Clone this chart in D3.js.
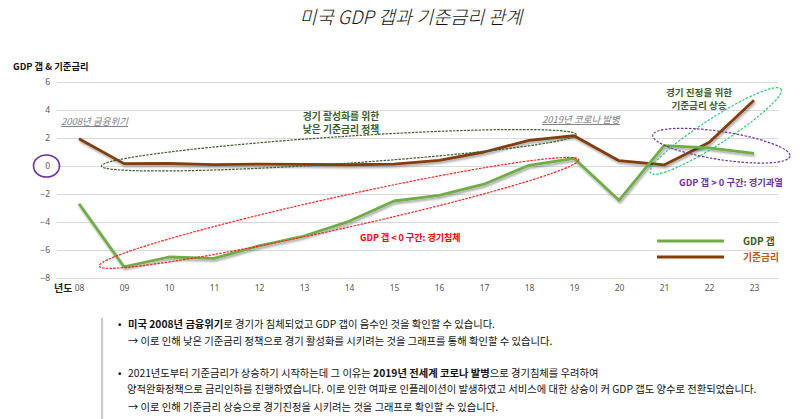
<!DOCTYPE html>
<html><head><meta charset="utf-8">
<script src="https://cdn.jsdelivr.net/npm/d3@7"></script>
<style>
html,body{margin:0;padding:0;background:#fff;}
svg{display:block;font-family:"Noto Sans CJK KR","Noto Sans",sans-serif;}
</style></head>
<body>
<svg id="c" width="800" height="419"></svg>
<script>
const years = ['08','09','10','11','12','13','14','15','16','17','18','19','20','21','22','23'];
const gdpGap = [-2.7,-7.2,-6.5,-6.6,-5.7,-5.0,-3.95,-2.5,-2.1,-1.3,0.05,0.55,-2.45,1.45,1.3,0.9];
const baseRate = [1.95,0.17,0.18,0.1,0.14,0.11,0.09,0.13,0.4,1.0,1.83,2.16,0.38,0.08,1.68,4.7];
const yTicks = [-8,-6,-4,-2,0,2,4,6];
const seriesNames = ['GDP 갭','기준금리'];

const svg = d3.select('#c');
const x = d3.scalePoint().domain(years).range([79,754]);
const y = d3.scaleLinear().domain([-8,6]).range([278,82]);

const defs = svg.append('defs');
const f = defs.append('filter').attr('id','sh').attr('x','-5%').attr('y','-20%').attr('width','110%').attr('height','150%');
f.append('feDropShadow').attr('dx',1).attr('dy',2).attr('stdDeviation',1.2).attr('flood-color','#000').attr('flood-opacity',0.35);

// title
svg.append('text').attr('x',411).attr('y',24).attr('text-anchor','middle')
  .attr('font-size',18.5).attr('font-weight',300).attr('font-style','italic').attr('fill','#111')
  .text('미국 GDP 갭과 기준금리 관계');

// y title
svg.append('text').attr('x',13).attr('y',70).attr('font-size',9.3).attr('font-weight',700).attr('fill','#111')
  .text('GDP 갭 & 기준금리');

// grid
const yAxis = d3.axisLeft(y).tickValues(yTicks).tickSize(-(778-57)).tickPadding(7);
const gy = svg.append('g').attr('transform','translate(57,0)').call(yAxis);
gy.select('.domain').remove();
gy.selectAll('.tick line').attr('stroke','#d9d9d9').attr('stroke-width',1);
gy.selectAll('.tick text').attr('fill','#595959').attr('font-size',8.5).attr('font-family','"Noto Sans","DejaVu Sans",sans-serif');

// x axis labels
const xAxis = d3.axisBottom(x).tickSize(0).tickPadding(6);
const gx = svg.append('g').attr('transform','translate(0,279)').call(xAxis);
gx.select('.domain').remove();
gx.selectAll('.tick text').attr('fill','#595959').attr('font-size',8.5).attr('font-family','"Noto Sans","DejaVu Sans",sans-serif');

svg.append('text').attr('x',54).attr('y',292).attr('font-size',10).attr('font-weight',700).attr('fill','#222').text('년도');

// lines
const line = d3.line().x((d,i)=>x(years[i])).y(d=>y(d));
svg.append('path').datum(baseRate).attr('d',line).attr('fill','none').attr('stroke','#843c0c')
  .attr('stroke-width',2.8).attr('stroke-linejoin','round').attr('filter','url(#sh)');
svg.append('path').datum(gdpGap).attr('d',line).attr('fill','none').attr('stroke','#70ad47')
  .attr('stroke-width',2.8).attr('stroke-linejoin','round').attr('filter','url(#sh)');

// annotation ellipses (in data coordinates: [year index, value] endpoints)
function ellipse(p1, p2, ry, stroke, dash, sw){
  const x1 = x(years[0]) + p1[0]*x.step(), y1 = y(p1[1]);
  const x2 = x(years[0]) + p2[0]*x.step(), y2 = y(p2[1]);
  const cx=(x1+x2)/2, cy=(y1+y2)/2;
  const rx=Math.hypot(x2-x1,y2-y1)/2;
  const ang=Math.atan2(y2-y1,x2-x1)*180/Math.PI;
  svg.append('ellipse').attr('cx',0).attr('cy',0).attr('rx',rx).attr('ry',ry)
    .attr('transform',`translate(${cx},${cy}) rotate(${ang})`)
    .attr('fill','none').attr('stroke',stroke).attr('stroke-width',sw||1.2)
    .attr('stroke-dasharray',dash);
}
ellipse([0.5,0.0],[11.05,2.25],13.5,'#3b5e2b','2.5,1.2');
ellipse([0.45,-7.15],[11.1,0.45],16,'#ff2020','2.5,1.2');
ellipse([12.7,-0.5],[15.6,5.5],13,'#2ecc71','2.5,1.5');
ellipse([12.75,2.2],[15.8,0.7],14,'#7030a0','2.5,1.5');

// purple circle around 0
svg.append('ellipse').attr('cx',46.5).attr('cy',y(0)).attr('rx',13).attr('ry',11)
  .attr('fill','none').attr('stroke','#7030a0').attr('stroke-width',1.6);

// italic notes
function note(t, xx, yy){
  svg.append('text').attr('x',xx).attr('y',yy).attr('font-size',9.5).attr('font-style','italic')
    .attr('fill','#7f7f7f').attr('text-decoration','underline').text(t);
}
note('2008년 금융위기',61,125);
note('2019년 코로나 발병',542,123);

function label(lines, cx, y0, col, anchor, fsz){
  lines.forEach((t,i)=>svg.append('text').attr('x',cx).attr('y',y0+i*13)
    .attr('text-anchor',anchor||'middle').attr('font-size',fsz||9).attr('font-weight',700).attr('fill',col).text(t));
}
label(['경기 활성화를 위한','낮은 기준금리 정책'],341,120,'#3b5e2b','middle',9.8);
label(['경기 진정을 위한','기준금리 상승'],699,96,'#3b5e2b','middle',9.6);
label(['GDP 갭 < 0 구간: 경기침체'],360,241,'#ff0000','start',9);
label(['GDP 갭 > 0 구간: 경기과열'],679,186,'#7030a0','start',9.3);

// legend
const legendColors = ['#70ad47','#843c0c'];
const legendText = ['#375623','#c55a11'];
seriesNames.forEach((n,i)=>{
  const ly = 241 + i*16;
  svg.append('line').attr('x1',657).attr('x2',724).attr('y1',ly).attr('y2',ly)
    .attr('stroke',legendColors[i]).attr('stroke-width',3);
  svg.append('text').attr('x',743).attr('y',ly+3.5).attr('font-size',9.8).attr('font-weight',700)
    .attr('fill',legendText[i]).text(n);
});

// bottom text panel
svg.append('line').attr('x1',102).attr('x2',102).attr('y1',318).attr('y2',419).attr('stroke','#c8c8c8').attr('stroke-width',2.2);
const fs = 10.3;
function rich(parts, xx, yy){
  const t = svg.append('text').attr('x',xx).attr('y',yy).attr('font-size',fs).attr('fill','#111');
  parts.forEach(p=>t.append('tspan').attr('font-weight',p[1]?700:400).text(p[0]));
}
svg.append('text').attr('x',118).attr('y',327.5).attr('font-size',fs).attr('fill','#111').text('•');
rich([['미국 2008년 금융위기',1],['로 경기가 침체되었고 GDP 갭이 음수인 것을 확인할 수 있습니다.',0]],128,327.5);
rich([['→ 이로 인해 낮은 기준금리 정책으로 경기 활성화를 시키려는 것을 그래프를 통해 확인할 수 있습니다.',0]],128,345);
svg.append('text').attr('x',118).attr('y',376.5).attr('font-size',fs).attr('fill','#111').text('•');
rich([['2021년도부터 기준금리가 상승하기 시작하는데 그 이유는 ',0],['2019년 전세계 코로나 발병',1],['으로 경기침체를 우려하여',0]],128,376.5);
rich([['양적완화정책으로 금리인하를 진행하였습니다. 이로 인한 여파로 인플레이션이 발생하였고 서비스에 대한 상승이 커 GDP 갭도 양수로 전환되었습니다.',0]],127,393);
rich([['→ 이로 인해 기준금리 상승으로 경기진정을 시키려는 것을 그래프로 확인할 수 있습니다.',0]],128,410.5);
</script>
</body></html>
